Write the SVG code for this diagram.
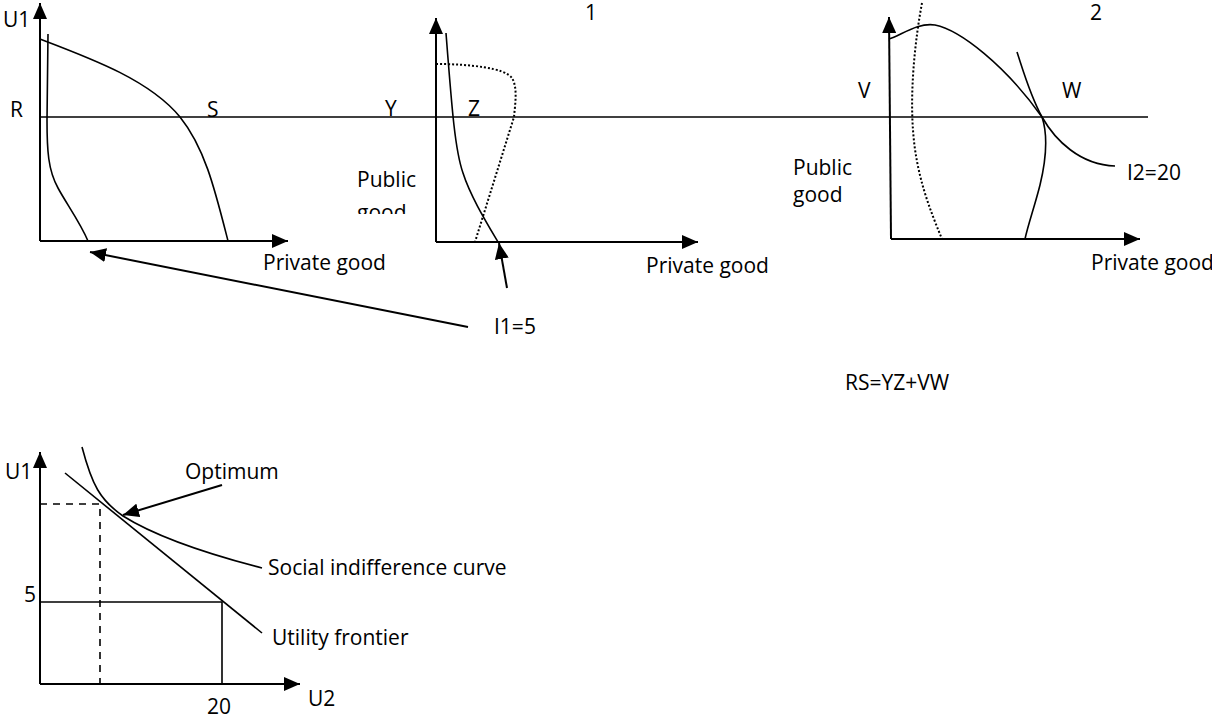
<svg xmlns="http://www.w3.org/2000/svg" width="1212" height="719" viewBox="0 0 1212 719">
<style>
text{font-family:"Open Sans","Liberation Sans",Arial,sans-serif;font-size:21px;fill:#000}
.ax{stroke:#000;stroke-width:2;fill:none}
.cv{stroke:#000;stroke-width:1.6;fill:none}
.dt{stroke:#000;stroke-width:2;fill:none;stroke-dasharray:2 2}
.ds{stroke:#000;stroke-width:1.6;fill:none;stroke-dasharray:7 6}
</style>
<defs>
<marker id="ah" viewBox="0 0 16 14" refX="16" refY="7" markerWidth="16" markerHeight="14" markerUnits="userSpaceOnUse" orient="auto">
<path d="M0,0 L16,7 L0,14 z" fill="#000"/>
</marker>
<clipPath id="cl"><rect x="340" y="150" width="100" height="64"/></clipPath>
</defs>
<rect width="1212" height="719" fill="#fff"/>

<g id="axes">
<path class="ax" d="M40,241 L40,3" marker-end="url(#ah)"/>
<path class="ax" d="M40,241 L288,241" marker-end="url(#ah)"/>
<path class="ax" d="M436,242 L436,18" marker-end="url(#ah)"/>
<path class="ax" d="M436,242 L698,242" marker-end="url(#ah)"/>
<path class="ax" d="M891,239 L889,17" marker-end="url(#ah)"/>
<path class="ax" d="M891,239 L1140,239" marker-end="url(#ah)"/>
<path class="ax" d="M40,684 L40,452" marker-end="url(#ah)"/>
<path class="ax" d="M40,684 L300,684" marker-end="url(#ah)"/>
</g>

<g id="panel1">
<path class="cv" d="M40,117 L1148,117"/>
<path class="cv" d="M48,34 L47,120 C47,150 48,170 58,188 C66,203 80,222 88,241"/>
<path class="cv" d="M40,39 C90,58 150,80 180,117 C205,148 215,190 228,241"/>
<text x="3" y="27">U1</text>
<text x="10" y="117">R</text>
<text x="207" y="117">S</text>
<text x="263" y="270">Private good</text>
</g>

<g id="panel2">
<path class="cv" d="M446,33 C452,110 455,150 463,173 C470,195 485,220 498,242"/>
<path class="dt" d="M436,64 C470,64 505,68 512,78 C518,88 515,105 514,117 L475,242"/>
<text x="385" y="116">Y</text>
<text x="468" y="116">Z</text>
<text x="585" y="20">1</text>
<text x="357" y="187">Public</text>
<text x="357" y="220" clip-path="url(#cl)">good</text>
<text x="646" y="273">Private good</text>
</g>

<g id="panel3">
<path class="cv" d="M889,39 C900,36 918,22 935,25 C960,30 1005,65 1042,117 C1048,135 1046,160 1040,185 C1035,205 1028,225 1025,239"/>
<path class="cv" d="M1017,52 C1023,70 1030,95 1042,117 C1055,140 1080,165 1115,166"/>
<path class="dt" d="M922,3 C915,40 910,90 913,130 C916,175 930,210 942,239"/>
<text x="1090" y="20">2</text>
<text x="858" y="98">V</text>
<text x="1062" y="98">W</text>
<text x="793" y="175">Public</text>
<text x="793" y="202">good</text>
<text x="1127" y="180">I2=20</text>
<text x="1091" y="270">Private good</text>
</g>

<g id="connectors">
<path class="ax" d="M468,327 L90,252" marker-end="url(#ah)"/>
<path class="ax" d="M507,288 L499,243" marker-end="url(#ah)"/>
<path class="ax" d="M222,485 L123,515" marker-end="url(#ah)"/>
</g>

<g id="labels">
<text x="494" y="334">I1=5</text>
<text x="845" y="390">RS=YZ+VW</text>
</g>

<g id="bottom">
<path class="ds" d="M40,504 L100,504 L100,684"/>
<path class="cv" d="M40,602 L222,602 L222,684"/>
<path class="cv" d="M65,473 L262,633"/>
<path class="cv" d="M82,447 C92,485 100,500 123,516 C150,533 200,552 262,568"/>
<text x="5" y="479">U1</text>
<text x="24" y="602">5</text>
<text x="207" y="714">20</text>
<text x="308" y="706">U2</text>
<text x="185" y="479">Optimum</text>
<text x="268" y="575">Social indifference curve</text>
<text x="272" y="645">Utility frontier</text>
</g>
</svg>
